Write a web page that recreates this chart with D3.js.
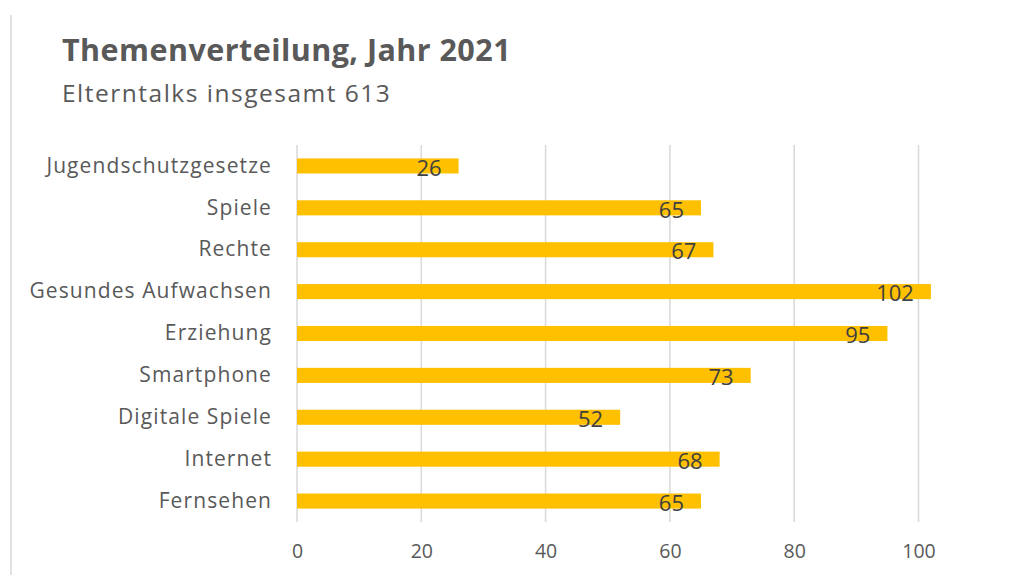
<!DOCTYPE html>
<html><head><meta charset="utf-8">
<script src="https://cdn.jsdelivr.net/npm/d3@7"></script>
<style>body{margin:0;background:#fff}svg{display:block;font-family:"Open Sans",sans-serif}</style>
</head><body><svg id="c" width="1015" height="575"></svg>
<script>
const categories = ["Jugendschutzgesetze","Spiele","Rechte","Gesundes Aufwachsen","Erziehung","Smartphone","Digitale Spiele","Internet","Fernsehen"];
const values = [26,65,67,102,95,73,52,68,65];
const ticks = [0,20,40,60,80,100];
const title = "Themenverteilung, Jahr 2021";
const subtitle = "Elterntalks insgesamt 613";
const FONT = "'Open Sans',sans-serif";

const svg = d3.select("#c");
svg.append("line").attr("x1",11).attr("x2",11).attr("y1",15).attr("y2",575).attr("stroke","#d9d9d9").attr("stroke-width",1.5);

const x = d3.scaleLinear().domain([0,100]).range([297,918.5]);
const y = d3.scaleBand().domain(categories).range([145,522]).paddingInner(0.64).paddingOuter(0.32);

svg.append("text").attr("x",62).attr("y",61).attr("font-size",30.5).attr("font-weight","bold").attr("fill","#595959").attr("letter-spacing",0.45).text(title);
svg.append("text").attr("x",62).attr("y",102).attr("font-size",24.5).attr("fill","#595959").attr("letter-spacing",1.5).text(subtitle);

svg.append("g").selectAll("line").data(ticks).join("line")
  .attr("x1",d=>x(d)).attr("x2",d=>x(d)).attr("y1",145).attr("y2",522)
  .attr("stroke","#d9d9d9").attr("stroke-width",1.5);

const xa = svg.append("g").attr("transform","translate(0,522)")
  .call(d3.axisBottom(x).tickValues(ticks).tickSize(0).tickPadding(22));
xa.select(".domain").remove();
xa.selectAll("text").attr("font-size",19.5).attr("fill","#595959").attr("font-family",FONT);

const ya = svg.append("g").attr("transform","translate(297,0)")
  .call(d3.axisLeft(y).tickSize(0).tickPadding(25));
ya.select(".domain").remove();
ya.selectAll("text").attr("font-size",21).attr("fill","#595959").attr("font-family",FONT).attr("letter-spacing",1.1);

svg.append("g").selectAll("rect").data(values).join("rect")
  .attr("x",x(0)).attr("y",(d,i)=>y(categories[i]))
  .attr("width",d=>x(d)-x(0)).attr("height",y.bandwidth())
  .attr("fill","#FFC000");

svg.append("g").selectAll("text").data(values).join("text")
  .attr("x",d=>x(d)-17).attr("y",(d,i)=>y(categories[i])+y.bandwidth()/2+2)
  .attr("dy","0.35em").attr("text-anchor","end").attr("font-size",22).attr("fill","#404040")
  .text(d=>d);
</script></body></html>
